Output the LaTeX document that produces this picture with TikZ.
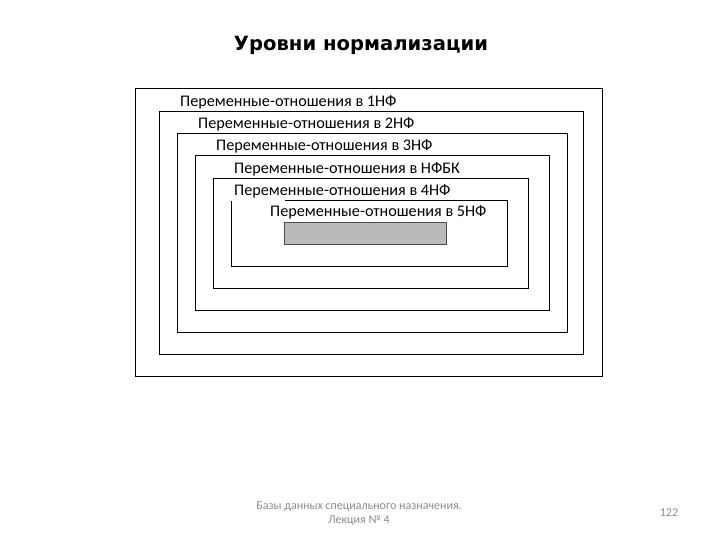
\documentclass[tikz,border=0pt]{standalone}
\usepackage{fontspec}
\setmainfont{Carlito}
\newfontfamily\titlefont{DejaVu Sans}
\begin{document}
\begin{tikzpicture}[x=1pt,y=-1pt,
  frame/.style={draw=black,line width=1pt},
  lbl/.style={anchor=west,inner sep=0pt,font=\fontsize{16.2}{16}\selectfont},
  foot/.style={inner sep=0pt,text=black!45,font=\fontsize{12}{14}\selectfont}]
\useasboundingbox[fill=white] (0,0) rectangle (720,540);
\node[inner sep=0pt,font=\titlefont\bfseries\fontsize{19.6}{22}\selectfont] (title) at (361,45) {Уровни нормализации};
% nested frames
\draw[frame] (135,89) rectangle (602,376);
\draw[frame] (159,112) rectangle (583,354);
\draw[frame] (177,134) rectangle (567,332);
\draw[frame] (195,156) rectangle (549,310);
\draw[frame] (213,179) rectangle (528,288);
\draw[frame] (231,201) -- (231,266) -- (507,266) -- (507,201) -- (285,201);
\draw[draw=black!70,fill=black!27,line width=0.6pt] (284,222) rectangle (446,244);
% labels
\node[lbl] (l1) at (180,102) {Переменные-отношения в 1НФ};
\node[lbl] (l2) at (198,124) {Переменные-отношения в 2НФ};
\node[lbl] (l3) at (216,146) {Переменные-отношения в 3НФ};
\node[lbl] (l4) at (234,169) {Переменные-отношения в НФБК};
\node[lbl] (l5) at (234,191) {Переменные-отношения в 4НФ};
\node[lbl] (l6) at (270,212) {Переменные-отношения в 5НФ};
% footer
\node[foot,align=center] (f1) at (359,514) {Базы данных специального назначения.\\Лекция № 4};
\node[foot] (pg) at (669,513) {122};
\end{tikzpicture}
\end{document}
